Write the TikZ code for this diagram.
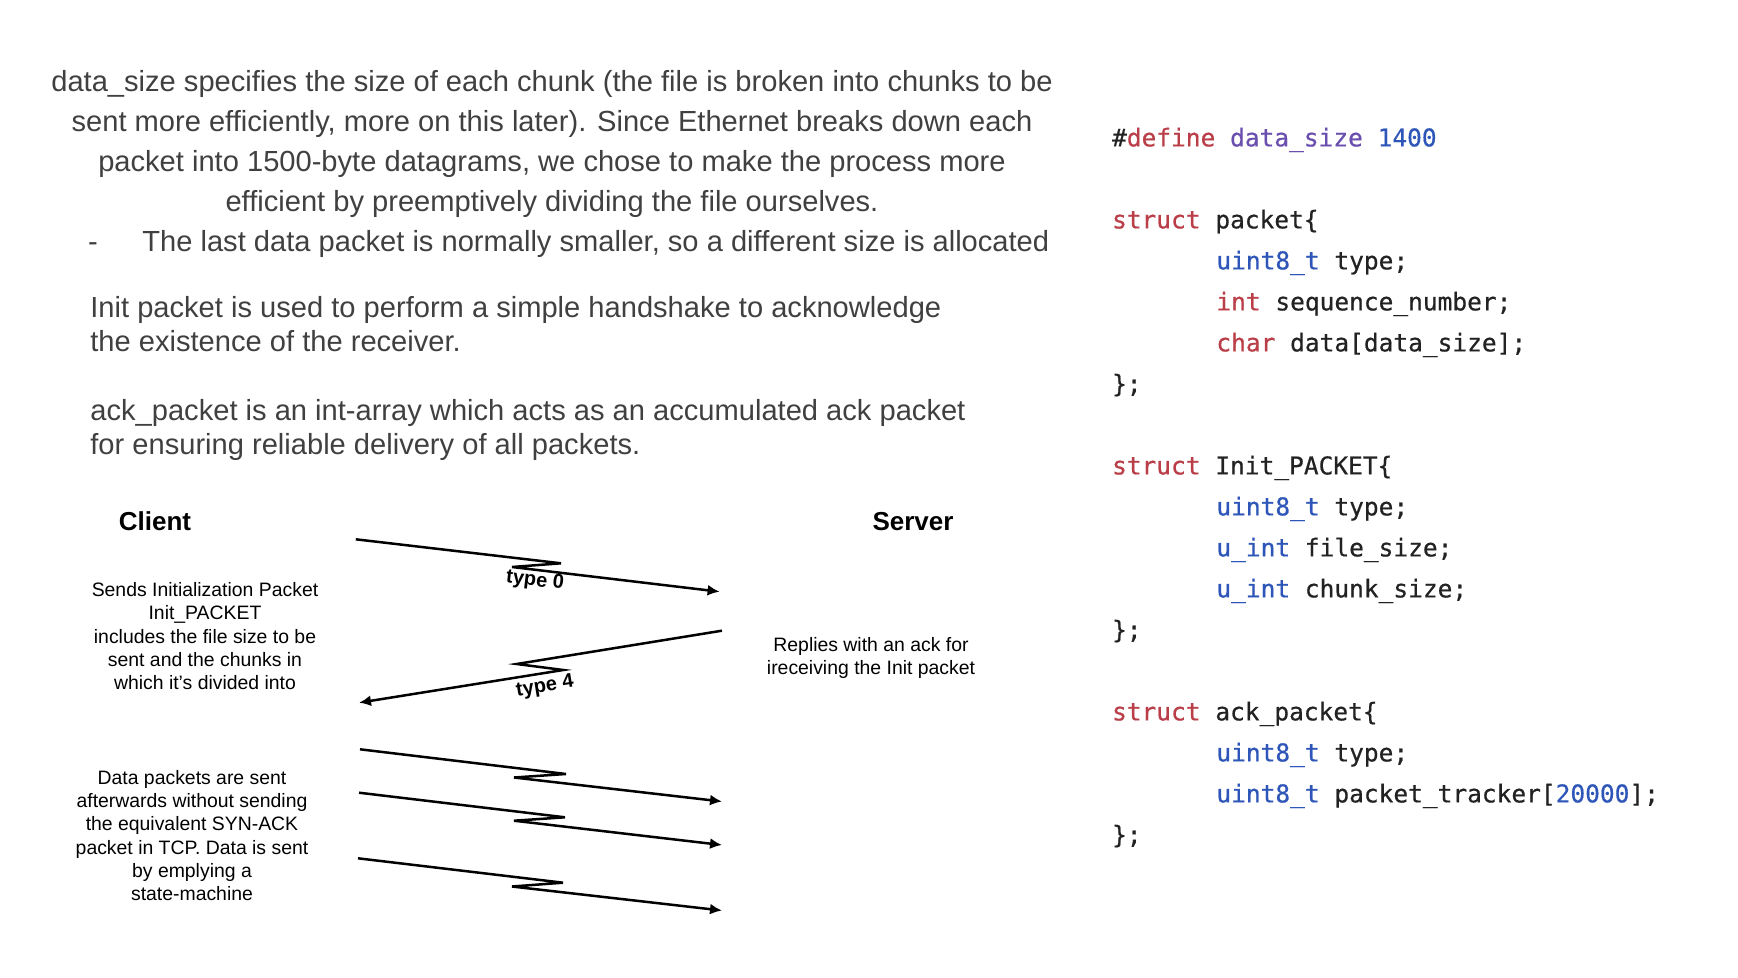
\documentclass[tikz,border=0pt]{standalone}
\usepackage{fontspec}
\setmainfont{Liberation Sans}
\newfontfamily\codefont[FakeBold=0.5]{DejaVu Sans Mono}
\usetikzlibrary{arrows.meta}
\definecolor{bodytext}{RGB}{64,64,64}
\definecolor{kwred}{RGB}{186,62,72}
\definecolor{kwblue}{RGB}{46,86,184}
\definecolor{kwpurple}{RGB}{106,79,175}
\definecolor{codeink}{RGB}{34,34,34}

\begin{document}
\begin{tikzpicture}[x=0.5pt,y=-0.5pt,
  para/.style={inner sep=0pt, text=bodytext, font=\fontsize{14.55}{17}\selectfont},
  small/.style={inner sep=0pt, anchor=base, font=\fontsize{9.7}{11}\selectfont},
  role/.style={inner sep=0pt, anchor=base, font=\fontsize{13}{15}\selectfont\bfseries},
  tag/.style={inner sep=0pt, font=\fontsize{10}{12}\selectfont\bfseries},
  code/.style={inner sep=0pt, anchor=base west, text=codeink, font=\codefont\fontsize{12.25}{14}\selectfont},
  msg/.style={line width=1.25pt, -{Latex[length=6pt,width=5.5pt]}, line join=miter},
]
\fill[white] (0,0) rectangle (1738,978);

% ---- explanatory text ----
\node[para, anchor=base] (p1a) at (552,92) {data\_size specifies the size of each chunk (the file is broken into chunks to be};
\node[para, anchor=base] (p1b) at (552,132) {sent more efficiently, more on this later). Since Ethernet breaks down each};
\node[para, anchor=base] (p1c) at (552,172) {packet into 1500-byte datagrams, we chose to make the process more};
\node[para, anchor=base] (p1d) at (552,212) {efficient by preemptively dividing the file ourselves.};
\node[para, anchor=base] (dash) at (93,252) {-};
\node[para, anchor=base west] (p1e) at (142,252) {The last data packet is normally smaller, so a different size is allocated};

\node[para, anchor=base west] (p2a) at (90,318) {Init packet is used to perform a simple handshake to acknowledge};
\node[para, anchor=base west] (p2b) at (90,351) {the existence of the receiver.};

\node[para, anchor=base west] (p3a) at (90,420.5) {ack\_packet is an int-array which acts as an accumulated ack packet};
\node[para, anchor=base west] (p3b) at (90,454.5) {for ensuring reliable delivery of all packets.};

% ---- message sequence ----
\node[role] (client) at (155,530) {Client};
\node[role] (server) at (913,530) {Server};

\node[small] (ia) at (205,596.6) {Sends Initialization Packet};
\node[small] (ib) at (205,619.8) {Init\_PACKET};
\node[small] (ic) at (205,643.1) {includes the file size to be};
\node[small] (id) at (205,666.4) {sent and the chunks in};
\node[small] (ie) at (205,689.7) {which it's divided into};

\node[small] (ra) at (871,651) {Replies with an ack for};
\node[small] (rb) at (871,674) {ireceiving the Init packet};

\node[small] (da) at (192,784) {Data packets are sent};
\node[small] (db) at (192,807) {afterwards without sending};
\node[small] (dc) at (192,830.5) {the equivalent SYN-ACK};
\node[small] (dd) at (192,854) {packet in TCP. Data is sent};
\node[small] (de) at (192,877) {by emplying a};
\node[small] (df) at (192,900) {state-machine};

% init packet (type 0)
\coordinate (s1) at (355.8,539.3);
\coordinate (u1) at (561,563.3);
\coordinate (l1) at (512,567);
\coordinate (e1) at (719.6,591.7);
\draw[msg] (s1) -- (u1) -- (l1) -- (e1);
\node[tag, rotate=-6.7] (t0) at (535,581) {type 0};

% ack reply (type 4)
\coordinate (s2) at (721.9,630.7);
\coordinate (u2) at (516.7,664);
\coordinate (l2) at (563.3,670);
\coordinate (e2) at (359,702.7);
\draw[msg] (s2) -- (u2) -- (l2) -- (e2);
\node[tag, rotate=9.2] (t4) at (545,686.7) {type 4};

% data packets
\coordinate (s3) at (360,749.3);
\coordinate (u3) at (566,774);
\coordinate (l3) at (514,777.5);
\coordinate (e3) at (722,801.5);
\draw[msg] (s3) -- (u3) -- (l3) -- (e3);

\coordinate (s4) at (359,792.7);
\coordinate (u4) at (565,817.3);
\coordinate (l4) at (514,820.7);
\coordinate (e4) at (722,845);
\draw[msg] (s4) -- (u4) -- (l4) -- (e4);

\coordinate (s5) at (358,858.3);
\coordinate (u5) at (563,882.7);
\coordinate (l5) at (512,886.5);
\coordinate (e5) at (722,910.5);
\draw[msg] (s5) -- (u5) -- (l5) -- (e5);

% ---- C declarations ----
\node[code] (c0) at (1111.7,146.4) {\#{\color{kwred}define} {\color{kwpurple}data\_size} {\color{kwblue}1400}};
\node[code] (c2) at (1111.7,228.4) {{\color{kwred}struct} packet\{};
\node[code] (c3) at (1216,269.4) {{\color{kwblue}uint8\_t} type;};
\node[code] (c4) at (1216,310.4) {{\color{kwred}int} sequence\_number;};
\node[code] (c5) at (1216,351.4) {{\color{kwred}char} data[data\_size];};
\node[code] (c6) at (1111.7,392.4) {\};};
\node[code] (c8) at (1111.7,474.4) {{\color{kwred}struct} Init\_PACKET\{};
\node[code] (c9) at (1216,515.4) {{\color{kwblue}uint8\_t} type;};
\node[code] (c10) at (1216,556.4) {{\color{kwblue}u\_int} file\_size;};
\node[code] (c11) at (1216,597.4) {{\color{kwblue}u\_int} chunk\_size;};
\node[code] (c12) at (1111.7,638.4) {\};};
\node[code] (c14) at (1111.7,720.4) {{\color{kwred}struct} ack\_packet\{};
\node[code] (c15) at (1216,761.4) {{\color{kwblue}uint8\_t} type;};
\node[code] (c16) at (1216,802.4) {{\color{kwblue}uint8\_t} packet\_tracker[{\color{kwblue}20000}];};
\node[code] (c17) at (1111.7,843.4) {\};};
\end{tikzpicture}
\end{document}
